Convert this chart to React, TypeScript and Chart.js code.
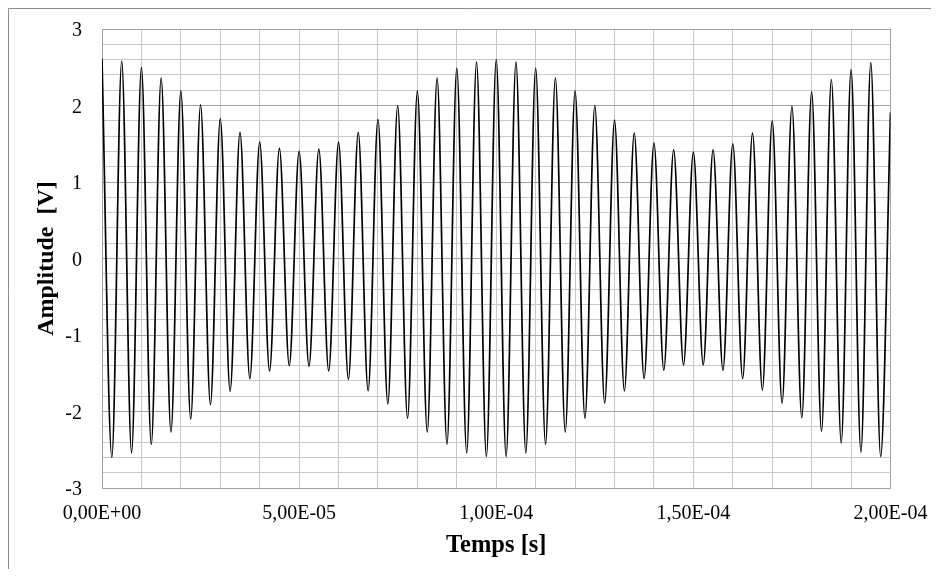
import React, { useEffect, useRef } from "react";
import { Chart, registerables } from "chart.js";

Chart.register(...registerables);

// Extrema of the signal (volts)
const peakValues = [
  2.61, 2.58, 2.5, 2.36, 2.19, 2.01, 1.83, 1.65, 1.52, 1.44,
  1.4, 1.43, 1.52, 1.65, 1.82, 2.0, 2.19, 2.36, 2.49, 2.57,
  2.6, 2.57, 2.49, 2.36, 2.19, 2.0, 1.81, 1.64, 1.51, 1.42,
  1.39, 1.42, 1.5, 1.64, 1.8, 1.99, 2.18, 2.34, 2.47, 2.56,
];
const troughValues = [
  -2.6, -2.54, -2.43, -2.27, -2.1, -1.91, -1.735, -1.57, -1.47, -1.4,
  -1.41, -1.47, -1.58, -1.73, -1.9, -2.09, -2.27, -2.43, -2.54, -2.59,
  -2.59, -2.54, -2.43, -2.27, -2.09, -1.89, -1.73, -1.57, -1.46, -1.39,
  -1.39, -1.46, -1.57, -1.72, -1.89, -2.08, -2.26, -2.41, -2.53, -2.59,
];
// time between successive extrema (s), last sample
const extremaStep = 2.5e-6;
const endTime = 2.0e-4;
const endValue = 1.91;

// axes
const xMin = 0;
const xMax = 2.0e-4;
const xGridStep = 1.0e-5;
const xTickLabels = ["0,00E+00", "5,00E-05", "1,00E-04", "1,50E-04", "2,00E-04"];
const yMin = -3;
const yMax = 3;
const yGridStep = 0.2;

const xTitle = "Temps [s]";
const yTitle = "Amplitude  [V]";

const FONT = "'Liberation Serif', 'Times New Roman', serif";
const MAJOR = "#a2a2a2";
const MINOR = "#c8c8c8";

function buildData() {
  const pts: { x: number; y: number }[] = [];
  for (let i = 0; i < peakValues.length; i++) {
    pts.push({ x: 2 * i * extremaStep, y: peakValues[i] });
    pts.push({ x: (2 * i + 1) * extremaStep, y: troughValues[i] });
  }
  pts.push({ x: endTime, y: endValue });
  return pts;
}

const framePlugin = {
  id: "frame",
  beforeDraw(chart: any) {
    const ctx = chart.ctx;
    ctx.save();
    ctx.strokeStyle = "#8c8c8c";
    ctx.lineWidth = 1;
    ctx.beginPath();
    ctx.moveTo(0.5, chart.height);
    ctx.lineTo(0.5, 0.5);
    ctx.lineTo(chart.width, 0.5);
    ctx.stroke();
    ctx.restore();
  },
};

export default function App() {
  const ref = useRef<HTMLCanvasElement | null>(null);

  useEffect(() => {
    if (!ref.current) return;
    const chart = new Chart(ref.current, {
      type: "line",
      data: {
        datasets: [
          {
            data: buildData(),
            borderColor: "#000000",
            borderWidth: 1.7,
            pointRadius: 0,
            fill: false,
            cubicInterpolationMode: "monotone",
          },
        ],
      },
      options: {
        responsive: false,
        animation: false,
        events: [],
        layout: { padding: { left: 0, right: 40.5, top: 21, bottom: 0 } },
        plugins: { legend: { display: false }, tooltip: { enabled: false } },
        scales: {
          x: {
            type: "linear",
            min: xMin,
            max: xMax,
            afterBuildTicks: (scale: any) => {
              const n = Math.round((xMax - xMin) / xGridStep);
              const t = [];
              for (let i = 0; i <= n; i++) t.push({ value: xMin + i * xGridStep });
              scale.ticks = t;
            },
            afterFit: (scale: any) => {
              scale.height = 81;
            },
            grid: {
              drawTicks: true,
              tickLength: 14,
              tickColor: "rgba(0,0,0,0)",
              lineWidth: 1,
              color: (c: any) =>
                c.index === 0 || c.index === Math.round((xMax - xMin) / xGridStep) ? MAJOR : MINOR,
            },
            border: { color: MAJOR, width: 1 },
            ticks: {
              autoSkip: false,
              maxRotation: 0,
              minRotation: 0,
              padding: 0,
              color: "#000",
              font: { family: FONT, size: 20 },
              callback: (_v: any, i: number) => (i % 5 === 0 ? xTickLabels[i / 5] : ""),
            },
            title: {
              display: true,
              text: xTitle,
              color: "#000",
              font: { family: FONT, size: 24.5, weight: "bold" },
              padding: { top: 0, bottom: 8.5 },
            },
          },
          y: {
            type: "linear",
            min: yMin,
            max: yMax,
            afterBuildTicks: (scale: any) => {
              const n = Math.round((yMax - yMin) / yGridStep);
              const t = [];
              for (let i = 0; i <= n; i++)
                t.push({ value: Math.round((yMin + i * yGridStep) * 1000) / 1000 });
              scale.ticks = t;
            },
            afterFit: (scale: any) => {
              scale.width = 94;
            },
            grid: {
              drawTicks: true,
              tickLength: 20,
              tickColor: "rgba(0,0,0,0)",
              lineWidth: 1,
              color: (c: any) => {
                const v = c.tick ? c.tick.value : 0;
                return Math.abs(v - Math.round(v)) < 1e-6 ? MAJOR : MINOR;
              },
            },
            border: { color: MAJOR, width: 1 },
            ticks: {
              autoSkip: false,
              padding: 0,
              labelOffset: 2,
              color: "#000",
              font: { family: FONT, size: 20 },
              callback: (value: any) => {
                const v = Number(value);
                const r = Math.round(v);
                return Math.abs(v - r) < 1e-6 ? String(r === 0 ? 0 : r) : "";
              },
            },
            title: {
              display: true,
              text: yTitle,
              color: "#000",
              font: { family: FONT, size: 24, weight: "bold" },
              padding: { top: 24.5, bottom: 0 },
            },
          },
        },
      },
      plugins: [framePlugin],
    } as any);
    return () => chart.destroy();
  }, []);

  return (
    <div style={{ width: 923, height: 561 }}>
      <canvas ref={ref} width={923} height={561} style={{ display: "block" }} />
    </div>
  );
}
